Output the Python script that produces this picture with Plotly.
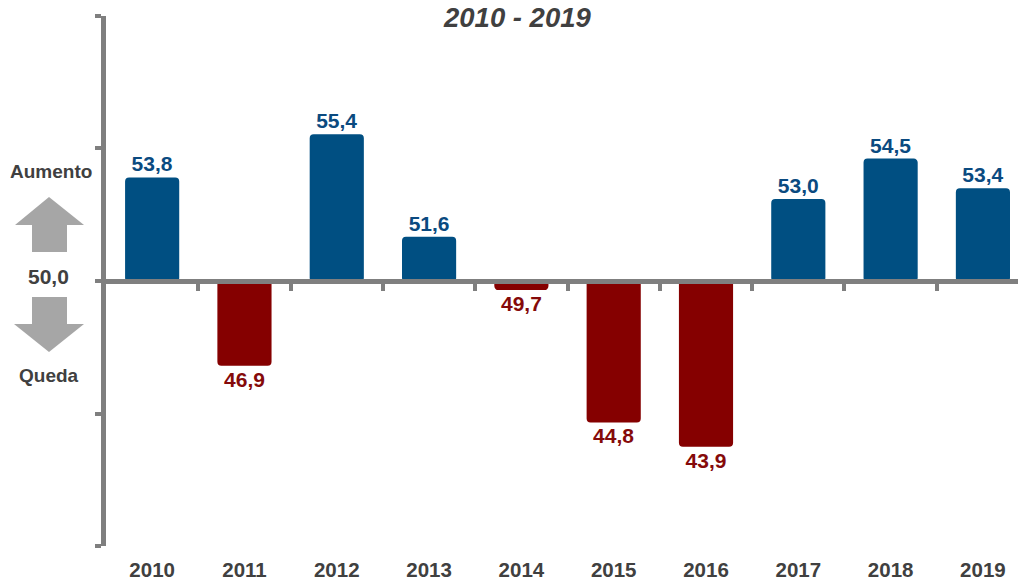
import plotly.graph_objects as go

WIDTH, HEIGHT = 1018, 581
years = ["2010", "2011", "2012", "2013", "2014", "2015", "2016", "2017", "2018", "2019"]
values = [53.8, 46.9, 55.4, 51.6, 49.7, 44.8, 43.9, 53.0, 54.5, 53.4]
baseline = 50.0
y_ticks = [40.185, 45.09, 50.0, 54.91, 59.815]
x_boundaries = [0.5, 1.5, 2.5, 3.5, 4.5, 5.5, 6.5, 7.5, 8.5]
BLUE, RED = "#004f82", "#850000"
TXT_BLUE = "#0a4a80"
TXT_RED = "#850a0a"
GREY = "#7f7f7f"
DARK = "#404040"
FONT = "Liberation Sans"

L, R, T, B = 106, 0, 16, 35
px = lambda x: (x - L) / (WIDTH - L - R)
py = lambda y: 1 - (y - T) / (HEIGHT - T - B)
xrange_ = [-0.5, 9.38]

colors = [BLUE if v >= baseline else RED for v in values]
tcolors = [TXT_BLUE if v >= baseline else TXT_RED for v in values]
labels = [f"{v:.1f}".replace(".", ",") for v in values]

fig = go.Figure()
fig.add_bar(
    x=list(range(10)), y=[v - baseline for v in values], base=baseline,
    width=0.565, marker=dict(color=colors, line=dict(width=2, color=colors), cornerradius=3),
    text=labels, textposition="outside", cliponaxis=False,
    textfont=dict(family=FONT, size=21, color=tcolors, weight="bold"),
    hoverinfo="skip",
)
# Overlay axis: the 50,0 baseline with its category separators
fig.add_scatter(x=[0], y=[baseline], xaxis="x2", mode="markers", marker=dict(opacity=0), showlegend=False, hoverinfo="skip")

fig.update_layout(
    width=WIDTH, height=HEIGHT, autosize=False, showlegend=False,
    margin=dict(l=L, r=R, t=T, b=B, autoexpand=False),
    paper_bgcolor="white", plot_bgcolor="white",
    xaxis=dict(range=xrange_, tickmode="array", tickvals=list(range(10)), ticktext=years,
               ticks="outside", ticklen=5, tickwidth=0, tickcolor="rgba(0,0,0,0)", automargin=False,
               showgrid=False, zeroline=False, showline=False,
               tickfont=dict(family=FONT, size=20.5, color=DARK, weight="bold")),
    xaxis2=dict(range=xrange_, overlaying="x", anchor="free", position=py(281), automargin=False,
                tickmode="array", tickvals=x_boundaries, ticks="outside", ticklen=7, tickwidth=4,
                tickcolor=GREY, showticklabels=False, showgrid=False, zeroline=False,
                showline=True, linecolor=GREY, linewidth=5),
    yaxis=dict(range=[y_ticks[0], y_ticks[-1]], tickmode="array", tickvals=y_ticks, ticks="outside",
               ticklen=6, tickwidth=4, tickcolor=GREY, showticklabels=False, showgrid=False, automargin=False,
               zeroline=False, showline=True, linecolor=GREY, linewidth=5),
    bargap=0.43,
)

ARROW = "#a6a6a6"
def poly(pts):
    return "M " + " L ".join(f"{px(x)} {py(y)}" for x, y in pts) + " Z"
up = [(49, 197), (84, 225), (67, 225), (67, 252), (32, 252), (32, 225), (15, 225)]
down = [(32, 297), (67, 297), (67, 324), (84, 324), (49, 352), (14, 324), (32, 324)]
for pts in (up, down):
    fig.add_shape(type="path", path=poly(pts), xref="paper", yref="paper",
                  fillcolor=ARROW, line=dict(width=0))

def note(x, y, text, size, **kw):
    fig.add_annotation(x=px(x), y=py(y), xref="paper", yref="paper", text=text, showarrow=False,
                       xanchor="center", yanchor="middle",
                       font=dict(family=FONT, size=size, color=DARK, weight="bold", **kw))
note(51, 171, "Aumento", 19)
note(48, 276, "50,0", 21)
note(49, 375, "Queda", 19)
note(517, 17, "2010 - 2019", 27.5, style="italic")

fig.write_html("out.html", config=dict(displayModeBar=False), post_script="document.body.style.margin='0';")
